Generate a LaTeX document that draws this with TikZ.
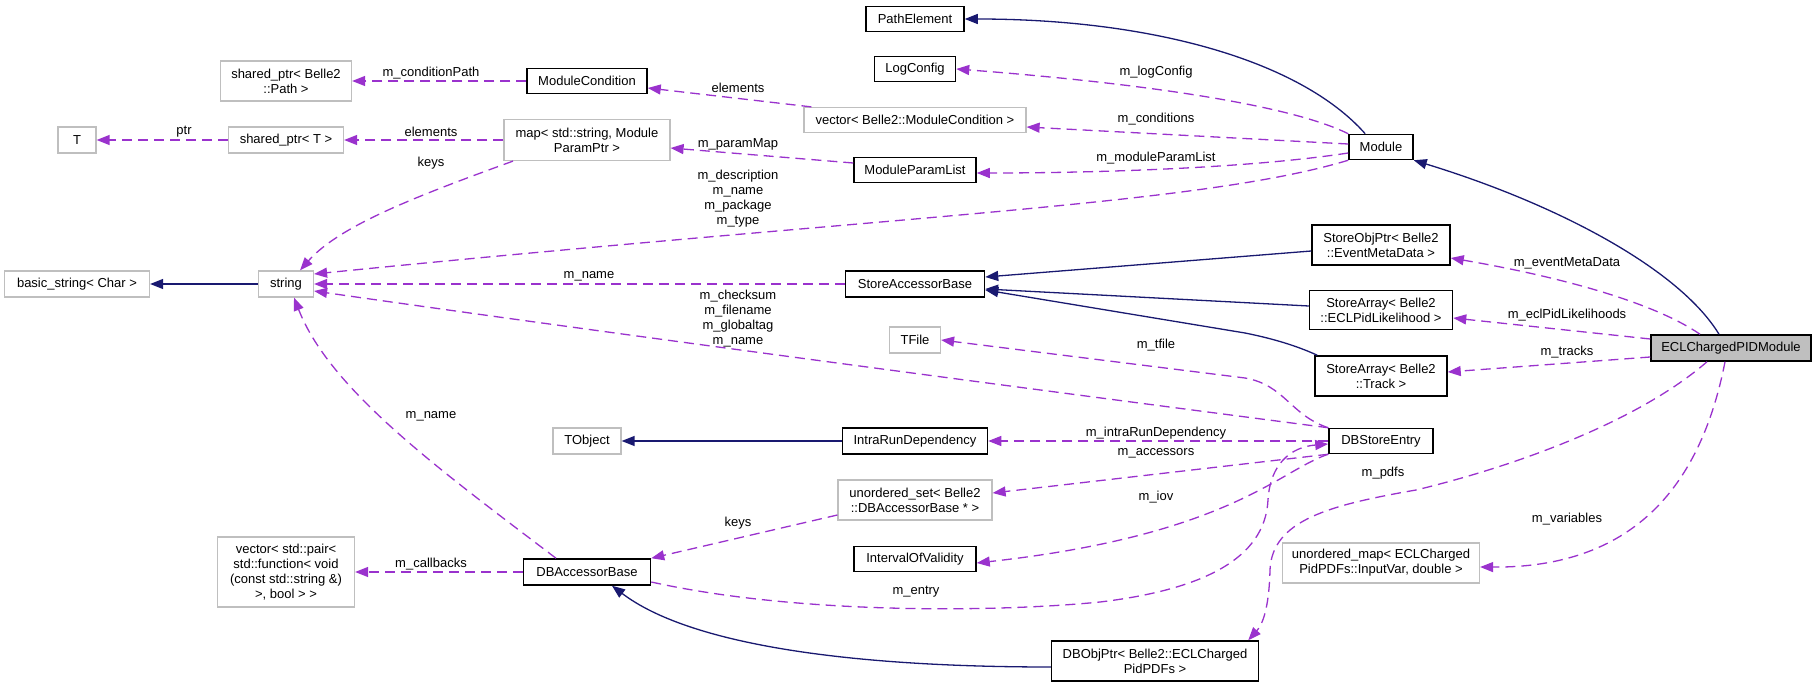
\documentclass[tikz,border=0pt]{standalone}
\usepackage{fontspec}
\setmainfont{Liberation Sans}
\usetikzlibrary{arrows.meta}
\definecolor{boxgray}{HTML}{BFBFBF}
\definecolor{edgenavy}{HTML}{191970}
\definecolor{edgepurple}{HTML}{9A32CD}

\begin{document}
\begin{tikzpicture}
[
x=1pt, y=-1pt,
every node/.style={font=\fontsize{13}{15}\selectfont},
doc/.style={rectangle, draw=black, line width=1.5pt, minimum height=25pt, inner sep=2pt, align=center},
undoc/.style={rectangle, draw=boxgray, line width=1.2pt, minimum height=26pt, inner sep=2pt, align=center},
main/.style={doc, fill=boxgray},
inherit/.style={draw=edgenavy, line width=1.3pt, -{Triangle[length=13pt,width=10pt]}},
usage/.style={draw=edgepurple, line width=1.3pt, dash pattern=on 10pt off 6pt, -{Triangle[length=13pt,width=10pt]}},
lbl/.style={inner sep=0pt}
]
\useasboundingbox (0,0) rectangle (1816,687);

%Nodes
\node[doc, minimum width=98pt]    (pathel)     at (915,19)   {PathElement};
\node[doc, minimum width=81pt]    (logcfg)     at (915,69)   {LogConfig};
\node[doc, minimum width=120pt]   (modcond)    at (587,81)   {ModuleCondition};
\node[undoc, minimum width=131pt, minimum height=40pt] (sharedpath) at (286,81) {shared\_ptr< Belle2\\::Path >};
\node[undoc, minimum width=222pt, minimum height=25pt] (vecmodcond) at (915,120) {vector< Belle2::ModuleCondition >};
\node[undoc, minimum width=38pt]  (tnode)      at (77,140)   {T};
\node[undoc, minimum width=115pt] (sharedt)    at (286,140)  {shared\_ptr< T >};
\node[undoc, minimum width=166pt, minimum height=41pt] (parammap) at (587,140) {map< std::string, Module\\ParamPtr >};
\node[doc, minimum width=122pt]   (paramlist)  at (915,170)  {ModuleParamList};
\node[doc, minimum width=64pt]    (module)     at (1381,147) {Module};
\node[undoc, minimum width=145pt] (basicstr)   at (77,284)   {basic\_string< Char >};
\node[undoc, minimum width=55pt]  (strnode)    at (286,284)  {string};
\node[doc, minimum width=139pt, minimum height=26pt] (storeacc) at (915,284) {StoreAccessorBase};
\node[doc, minimum width=138pt, minimum height=40pt] (objptr)   at (1381,245) {StoreObjPtr< Belle2\\::EventMetaData >};
\node[doc, minimum width=143pt, minimum height=39pt] (arrecl)   at (1381,310) {StoreArray< Belle2\\::ECLPidLikelihood >};
\node[doc, minimum width=132pt, minimum height=40pt] (arrtrack) at (1381,376) {StoreArray< Belle2\\::Track >};
\node[main, minimum width=160pt, minimum height=26pt] (eclmod)  at (1731,348) {ECLChargedPIDModule};
\node[undoc, minimum width=51pt]  (tfile)      at (915,340)  {TFile};
\node[undoc, minimum width=68pt]  (tobject)    at (587,441)  {TObject};
\node[doc, minimum width=145pt, minimum height=26pt] (intrarun) at (915,441) {IntraRunDependency};
\node[doc, minimum width=104pt]   (dbstore)    at (1381,441) {DBStoreEntry};
\node[undoc, minimum width=154pt, minimum height=40pt] (uset)   at (915,500) {unordered\_set< Belle2\\::DBAccessorBase * >};
\node[doc, minimum width=122pt]   (iov)        at (915,559)  {IntervalOfValidity};
\node[undoc, minimum width=137pt, minimum height=70pt] (vecpair) at (286,572) {vector< std::pair<\\ std::function< void\\ (const std::string \&)\\ >, bool > >};
\node[doc, minimum width=127pt, minimum height=26pt] (dbacc)    at (587,572) {DBAccessorBase};
\node[undoc, minimum width=197pt, minimum height=40pt] (umap)   at (1381,563) {unordered\_map< ECLCharged\\PidPDFs::InputVar, double >};
\node[doc, minimum width=207pt, minimum height=40pt] (dbobj)    at (1155,661) {DBObjPtr< Belle2::ECLCharged\\PidPDFs >};

%Labels
\node[lbl] (lcondpath)  at (431,73)   {m\_conditionPath};
\node[lbl] (lelem1)     at (738,88)   {elements};
\node[lbl] (llogcfg)    at (1156,72)  {m\_logConfig};
\node[lbl] (lconds)     at (1156,119) {m\_conditions};
\node[lbl] (lmpl)       at (1156,158) {m\_moduleParamList};
\node[lbl] (lparammap)  at (738,144)  {m\_paramMap};
\node[lbl, align=center] (ldescr) at (738,199) {m\_description\\m\_name\\m\_package\\m\_type};
\node[lbl] (lptr)       at (184,132)  {ptr};
\node[lbl] (lelem2)     at (431,132)  {elements};
\node[lbl] (lkeys1)     at (431,163)  {keys};
\node[lbl] (lname1)     at (589,276)  {m\_name};
\node[lbl, align=center] (lchecksum) at (738,319) {m\_checksum\\m\_filename\\m\_globaltag\\m\_name};
\node[lbl] (lname2)     at (431,416)  {m\_name};
\node[lbl] (lmeta)      at (1567,263) {m\_eventMetaData};
\node[lbl] (lecllik)    at (1567,315) {m\_eclPidLikelihoods};
\node[lbl] (ltracks)    at (1567,352) {m\_tracks};
\node[lbl] (ltfile)     at (1156,345) {m\_tfile};
\node[lbl] (lintra)     at (1156,433) {m\_intraRunDependency};
\node[lbl] (laccess)    at (1156,453) {m\_accessors};
\node[lbl] (liov)       at (1156,497) {m\_iov};
\node[lbl] (lkeys2)     at (738,523)  {keys};
\node[lbl] (lcallbacks) at (431,564)  {m\_callbacks};
\node[lbl] (lentry)     at (916,592)  {m\_entry};
\node[lbl] (lpdfs)      at (1383,473) {m\_pdfs};
\node[lbl] (lvars)      at (1567,519) {m\_variables};

%Lines
% base classes
\draw[inherit] (module.140) .. controls (1300,60) and (1150,19) .. (pathel.east);
\draw[inherit] ([xshift=-12pt]eclmod.north) .. controls (1680,270) and (1560,205) .. (module.south east);
\draw[inherit] ([yshift=-6pt]objptr.west) -- ([yshift=7pt]storeacc.east);
\draw[inherit] ([yshift=4pt]arrecl.west) -- ([yshift=-5pt]storeacc.east);
\draw[inherit] ([xshift=3pt]arrtrack.north west) .. controls (1295,345) and (1270,338) .. (1245,333) -- ([yshift=-6pt]storeacc.east);
\draw[inherit] (strnode) -- (basicstr);
\draw[inherit] (intrarun) -- (tobject);
\draw[inherit] ([yshift=-6pt]dbobj.west) .. controls (850,667) and (690,645) .. ([xshift=25pt]dbacc.south);

% members
\draw[usage] (modcond) -- (sharedpath);
\draw[usage] ([xshift=8pt]vecmodcond.north west) -- ([yshift=-7pt]modcond.east);
\draw[usage] (module.north west) .. controls (1280,100) and (1100,80) .. (logcfg.east);
\draw[usage] ([yshift=3pt]module.west) -- ([yshift=-7pt]vecmodcond.east);
\draw[usage] ([yshift=-6pt]module.west) .. controls (1250,168) and (1100,173) .. ([yshift=-3pt]paramlist.east);
\draw[usage] (module.south west) .. controls (1200,205) and (900,215) .. ([yshift=10pt]strnode.east);
\draw[usage] ([yshift=7pt]paramlist.west) -- ([yshift=-8pt]parammap.east);
\draw[usage] (sharedt) -- (tnode);
\draw[usage] (parammap) -- (sharedt);
\draw[usage] ([xshift=-74pt]parammap.south) .. controls (420,195) and (340,225) .. ([xshift=14pt]strnode.north);
\draw[usage] (storeacc) -- (strnode);
\draw[usage] (dbstore.north west) .. controls (1000,385) and (600,332) .. ([yshift=-7pt]strnode.east);
\draw[usage] ([xshift=-31pt]dbacc.north) .. controls (440,470) and (330,390) .. ([xshift=8pt]strnode.south);
\draw[usage] ([xshift=-31pt]eclmod.north) .. controls (1650,300) and (1550,275) .. ([yshift=-13pt]objptr.east);
\draw[usage] ([yshift=9pt]eclmod.west) -- ([yshift=-8pt]arrecl.east);
\draw[usage] ([yshift=-9pt]eclmod.west) -- ([yshift=4pt]arrtrack.east);
\draw[usage] ([xshift=-6pt]eclmod.south) .. controls (1700,490) and (1630,568) .. ([yshift=-4pt]umap.east);
\draw[usage] ([xshift=-24pt]eclmod.south) .. controls (1640,420) and (1520,465) .. (1416,490) .. controls (1330,505) and (1272,520) .. (1270,570) .. controls (1269,610) and (1262,625) .. ([xshift=-11pt]dbobj.north east);
\draw[usage] (dbstore.north west) .. controls (1290,415) and (1285,385) .. (1245,378) -- (tfile.east);
\draw[usage] (dbstore) -- (intrarun);
\draw[usage] (dbstore.south west) -- ([yshift=7pt]uset.east);
\draw[usage] (dbstore.south west) .. controls (1280,470) and (1230,535) .. ([yshift=-4pt]iov.east);
\draw[usage] ([yshift=-15pt]uset.west) -- (dbacc.north east);
\draw[usage] (dbacc) -- (vecpair);
\draw[usage] ([yshift=-10pt]dbacc.east) .. controls (800,615) and (1000,612) .. (1100,602) .. controls (1200,590) and (1265,560) .. (1268,500) .. controls (1270,465) and (1290,447) .. ([yshift=-3pt]dbstore.west);

\end{tikzpicture}
\end{document}
